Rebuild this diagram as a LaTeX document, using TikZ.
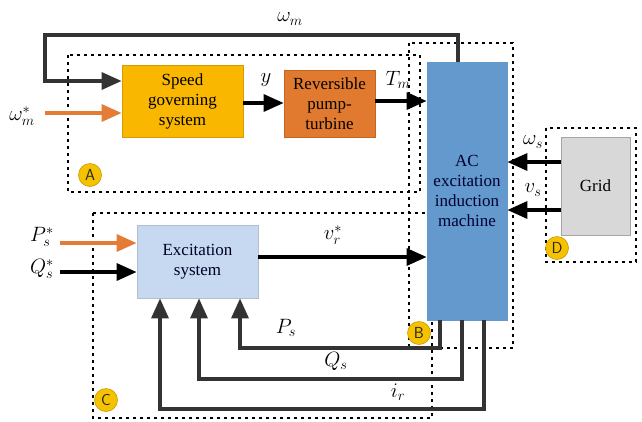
\documentclass[tikz,border=0pt]{standalone}
\usepackage{fontspec}
\setmainfont{Liberation Serif}
\usetikzlibrary{arrows.meta,calc}
\definecolor{gold}{HTML}{F9B700}
\definecolor{pumpor}{HTML}{E17A2E}
\definecolor{machblue}{HTML}{6399CD}
\definecolor{gridgrey}{HTML}{D8D8D8}
\definecolor{excblue}{HTML}{C6D9F1}
\definecolor{arrowor}{HTML}{E47C35}
\definecolor{circy}{HTML}{F6C200}
\tikzset{
  blk/.style={draw, line width=0.8pt, rectangle, inner sep=0pt, align=center,
    font=\fontsize{17}{20}\selectfont},
  sig/.style={line width=3.4pt, -{Triangle[length=20pt,width=17pt]}},
  fb/.style={line width=3.4pt, draw=black!80, -{Triangle[length=20pt,width=17pt]}},
  dotbox/.style={line width=2.8pt, dash pattern=on 2.8pt off 4.2pt},
  lab/.style={font=\fontsize{22}{24}\selectfont, inner sep=0pt},
  tag/.style={circle, fill=circy, draw=circy!80!black, line width=0.6pt, minimum size=23pt, inner sep=0pt,
    font=\sffamily\fontsize{16}{16}\selectfont, text=black!85}
}
\begin{document}
\begin{tikzpicture}[x=1pt,y=-1pt]
\useasboundingbox (0,0) rectangle (642,421);
% dotted boxes
\draw[dotbox] (68,55) rectangle (420,192);
\draw[dotbox] (409,43) rectangle (513,348);
\draw[dotbox] (93,213) rectangle (432,418);
\draw[dotbox] (546,128) rectangle (636,262);
% blocks
\node[blk, fill=gold, draw=gold!85!black, minimum width=121pt, minimum height=72pt] (speed) at (182.5,101) {Speed\\governing\\system};
\node[blk, fill=pumpor, draw=pumpor!85!black, minimum width=91pt, minimum height=67pt] (pump) at (329.5,103.5) {Reversible\\pump-\\turbine};
\node[blk, fill=machblue, draw=machblue, minimum width=80pt, minimum height=258pt, text=blue!20!black] (mach) at (467,191) {AC\\excitation\\induction\\machine};
\node[blk, fill=gridgrey, draw=gray!70, minimum width=69pt, minimum height=98pt] (grid) at (595.5,186) {Grid};
\node[blk, fill=excblue, draw=excblue!70!gray, minimum width=121pt, minimum height=73pt, text=blue!15!black] (exc) at (197.5,261.5) {Excitation\\system};
% helper coordinates
\coordinate (wmx) at (458,35);
\coordinate (wml) at (45,35);
\coordinate (wmy) at (0,81);
\coordinate (wrefs) at (45,113);
\coordinate (psrefs) at (60,243);
\coordinate (qsrefs) at (60,272);
\coordinate (yrow) at (0,103);
\coordinate (tmrow) at (0,101);
\coordinate (wsrow) at (0,162);
\coordinate (vsrow) at (0,210);
\coordinate (vrrow) at (0,257);
\coordinate (pscol) at (440,0);
\coordinate (qscol) at (462,0);
\coordinate (ircol) at (484,0);
\coordinate (psrow) at (0,348);
\coordinate (qsrow) at (0,379);
\coordinate (irrow) at (0,409);
\coordinate (pse) at (240,0);
\coordinate (qse) at (199,0);
\coordinate (ire) at (160,0);
% connectors
\draw[fb] (mach.north -| wmx) |- (wml) |- (speed.west |- wmy);
\draw[sig, draw=arrowor] (wrefs) -- (speed.west |- wrefs);
\draw[sig] (speed.east |- yrow) -- (pump.west |- yrow);
\draw[sig] (pump.east |- tmrow) -- (mach.west |- tmrow);
\draw[sig] (grid.west |- wsrow) -- (mach.east |- wsrow);
\draw[sig] (grid.west |- vsrow) -- (mach.east |- vsrow);
\draw[sig, draw=arrowor] (psrefs) -- (exc.west |- psrefs);
\draw[sig] (qsrefs) -- (exc.west |- qsrefs);
\draw[sig] (exc.east |- vrrow) -- (mach.west |- vrrow);
\draw[fb] (mach.south -| pscol) |- (pse |- psrow) -- (exc.south -| pse);
\draw[fb] (mach.south -| qscol) |- (qse |- qsrow) -- (exc.south -| qse);
\draw[fb] (mach.south -| ircol) |- (ire |- irrow) -- (exc.south -| ire);
% labels
\node[lab] (lwm) at (290,19) {$\omega_m$};
\node[lab] (lwr) at (22,116) {$\omega_m^*$};
\node[lab] (ly) at (266,80) {$y$};
\node[lab] (ltm) at (398,80) {$T_m$};
\node[lab] (lws) at (533,142) {$\omega_s$};
\node[lab] (lvs) at (533,190) {$v_s$};
\node[lab] (lps) at (42,237) {$P_s^*$};
\node[lab] (lqs) at (42,269) {$Q_s^*$};
\node[lab] (lvr) at (333,235) {$v_r^*$};
\node[lab] (lpf) at (286,328) {$P_s$};
\node[lab] (lqf) at (336,361) {$Q_s$};
\node[lab] (lir) at (398,392) {$i_r$};
% tags
\node[tag] (ta) at (90,175) {A};
\node[tag] (tb) at (419,333) {B};
\node[tag] (tc) at (106,400) {C};
\node[tag] (td) at (557,248) {D};
\end{tikzpicture}
\end{document}
